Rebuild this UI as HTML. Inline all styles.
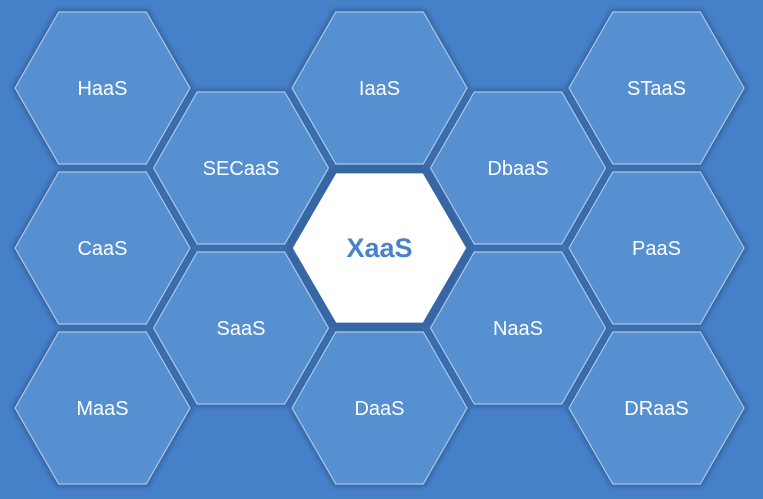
<!DOCTYPE html>
<html><head><meta charset="utf-8"><style>
html,body{margin:0;padding:0;background:#4580c8;}
svg{display:block}
text{font-family:"Liberation Sans",sans-serif;}
</style></head><body>
<svg id="chart" width="763" height="499" viewBox="0 0 763 499">
<defs><filter id="blur" x="-20%" y="-20%" width="140%" height="140%"><feGaussianBlur stdDeviation="2"/></filter></defs>
<rect width="763" height="499" fill="#4580c8"/>
<g id="layer-shadow" filter="url(#blur)" opacity="0.85"></g>
<g id="layer-hex"></g>
</svg>
<script>
const labels = ["HaaS","CaaS","MaaS","SECaaS","SaaS","IaaS","XaaS","DaaS","DbaaS","NaaS","STaaS","PaaS","DRaaS"];
const cols = [0,0,0,1,1,2,2,2,3,3,4,4,4];
const rows = [0,2,4,1,3,0,2,4,1,3,0,2,4];
const NS = "http://www.w3.org/2000/svg";
const colX = c => 102.5 + c * 138.5;
const rowY = r => 88 + r * 80;
function hexPts(cx, cy, w, h) {
  const hw = w, qw = w / 2;
  return [[cx-hw,cy],[cx-qw,cy-h],[cx+qw,cy-h],[cx+hw,cy],[cx+qw,cy+h],[cx-qw,cy+h]].map(p=>p.join(",")).join(" ");
}
const sh = document.getElementById("layer-shadow");
const hx = document.getElementById("layer-hex");
labels.forEach((lab, i) => {
  const cx = colX(cols[i]), cy = rowY(rows[i]);
  const center = lab === "XaaS";
  const s = document.createElementNS(NS, "polygon");
  s.setAttribute("points", hexPts(cx, cy, 88, 76));
  s.setAttribute("fill", "#34629e");
  s.setAttribute("stroke", "#34629e");
  s.setAttribute("stroke-width", center ? "10" : "6");
  s.setAttribute("stroke-linejoin", "round");
  
  
  sh.appendChild(s);
  const g = document.createElementNS(NS, "g");
  
  
  const p = document.createElementNS(NS, "polygon");
  p.setAttribute("points", center ? hexPts(cx, cy, 86, 74) : hexPts(cx, cy, 87.5, 76));
  p.setAttribute("fill", center ? "#ffffff" : "#5690d0");
  p.setAttribute("stroke", center ? "#ffffff" : "#a9c8ec");
  p.setAttribute("stroke-width", "1.2");
  
  
  g.appendChild(p);
  const t = document.createElementNS(NS, "text");
  t.setAttribute("x", cx);
  t.setAttribute("y", cy + (center ? 9 : 7));
  t.setAttribute("text-anchor", "middle");
  t.setAttribute("font-size", center ? "27" : "20");
  t.setAttribute("fill", center ? "#4a82c9" : "#ffffff");
  if (center) t.setAttribute("font-weight", "bold");
  t.textContent = lab;
  
  
  g.appendChild(t);
  hx.appendChild(g);
});
</script>
</body></html>
